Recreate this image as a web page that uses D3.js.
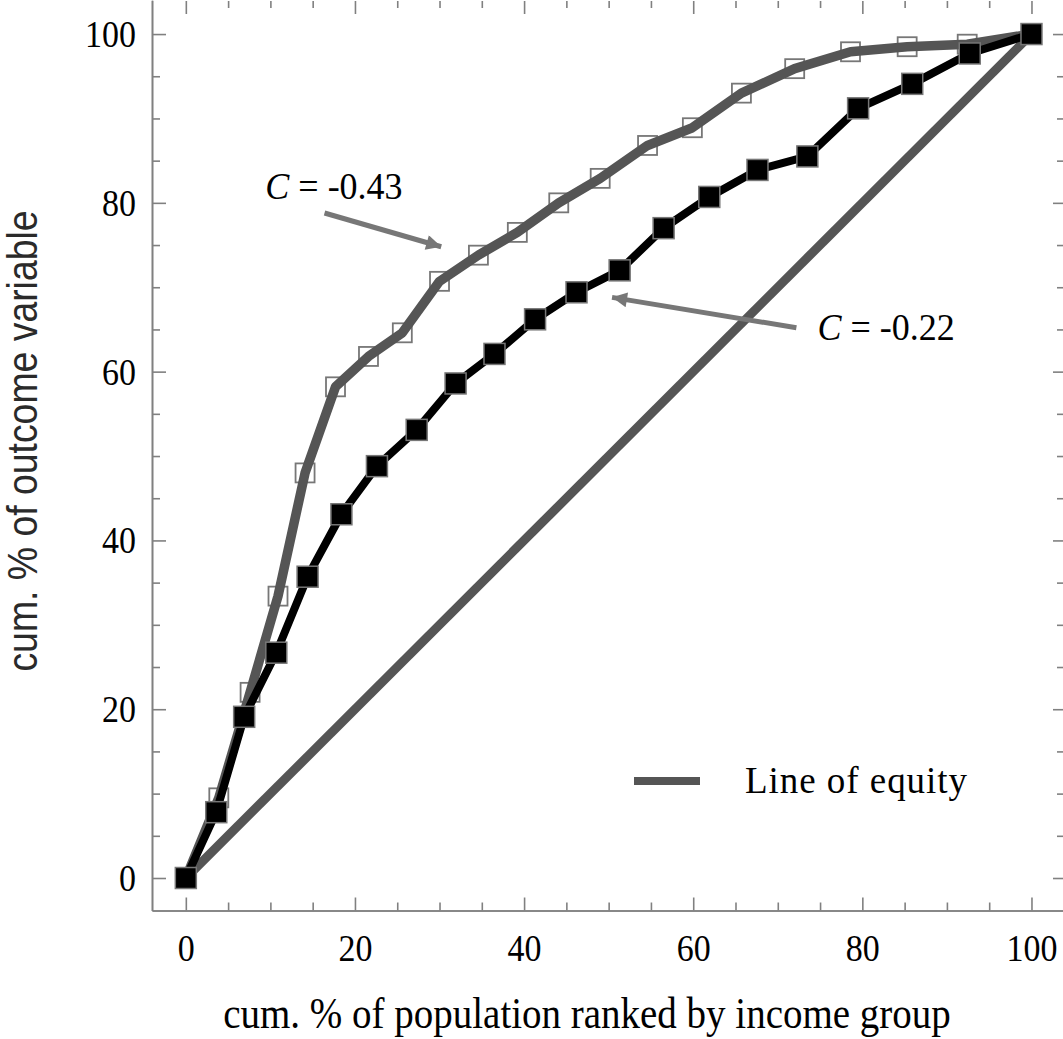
<!DOCTYPE html>
<html><head><meta charset="utf-8">
<script src="https://cdn.jsdelivr.net/npm/d3@7"></script>
<style>body{margin:0;background:#fff}svg{display:block}</style>
</head><body>
<script>
// ---- data ----
const blackX = [0, 3.6, 6.9, 10.7, 14.4, 18.4, 22.6, 27.3, 31.9, 36.5, 41.3, 46.2, 51.3, 56.5, 61.9, 67.6, 73.5, 79.5, 85.9, 92.7, 100];
const blackY = [0, 7.8, 19.1, 26.7, 35.7, 43.1, 48.8, 53.1, 58.6, 62.1, 66.2, 69.4, 72.0, 77.0, 80.7, 83.9, 85.5, 91.2, 94.1, 97.7, 100];
const grayX = [0, 3.9, 7.6, 10.9, 14.1, 17.7, 21.6, 25.6, 30.0, 34.6, 39.2, 44.1, 49.0, 54.6, 59.9, 65.7, 72.0, 78.6, 85.3, 92.4, 100];
const grayY = [0, 9.5, 22.0, 33.4, 48.0, 58.2, 61.8, 64.6, 70.7, 73.8, 76.5, 80.0, 82.9, 86.8, 88.9, 93.0, 95.9, 97.9, 98.5, 98.8, 100];
const equityX = [0, 100];
const equityY = [0, 100];
const majorTicks = [0, 20, 40, 60, 80, 100];
const minorTicks = [5,10,15,25,30,35,45,50,55,65,70,75,85,90,95];
const labelGray = "C = -0.43";
const labelBlack = "C = -0.22";
const legendLabel = "Line of equity";
const xTitle = "cum. % of population ranked by income group";
const yTitle = "cum. % of outcome variable";

const W = 1063, H = 1039;
const svg = d3.select("body").append("svg").attr("width", W).attr("height", H);
const x = d3.scaleLinear().domain([-4, 104]).range([152, 1065.3]);
const y = d3.scaleLinear().domain([-3.85, 104]).range([910.5, 0.3]);
const axisCol = "#808080";
const serif = "'Liberation Serif', 'Times New Roman', serif";
const VS = 1.12; // vertical stretch of the reference's text

function drawAxis(gen, tr, ticks, size, labels) {
  const g = svg.append("g").attr("transform", tr)
    .call(gen.tickValues(ticks).tickSize(size).tickSizeOuter(0).tickFormat(labels ? d3.format("d") : ""));
  g.select(".domain").attr("stroke", axisCol).attr("stroke-width", 1.6);
  g.selectAll(".tick line").attr("stroke", axisCol).attr("stroke-width", 1.6);
  g.selectAll("text").attr("font-family", serif).attr("font-size", 34).attr("fill", "#000");
  return g;
}
const gb = drawAxis(d3.axisBottom(x), "translate(0,910.5)", majorTicks, -13, true);
gb.selectAll("text").attr("y", 0).attr("dy", 0).attr("transform", `translate(0,50) scale(1,${VS})`);
drawAxis(d3.axisBottom(x), "translate(0,910.5)", minorTicks, -8, false);
const gl = drawAxis(d3.axisLeft(y), "translate(152,0)", majorTicks, -14, true);
gl.selectAll("text").attr("x", 0).attr("dy", 0).attr("transform", `translate(-16,12.5) scale(1,${VS})`);
drawAxis(d3.axisLeft(y), "translate(152,0)", minorTicks, -8, false);
// top and right ticks (frame lines are cropped off)
const gt = drawAxis(d3.axisTop(x), "translate(0,1)", majorTicks, -13, false);
gt.select(".domain").remove();
const gt2 = drawAxis(d3.axisTop(x), "translate(0,1)", minorTicks, -7, false);
gt2.select(".domain").remove();
const gr = drawAxis(d3.axisRight(y), "translate(1064,0)", majorTicks, -11, false);
gr.select(".domain").remove();
const gr2 = drawAxis(d3.axisRight(y), "translate(1064,0)", minorTicks, -7, false);
gr2.select(".domain").remove();

// titles
svg.append("text").attr("transform", `translate(587,1028) scale(1,${VS})`).attr("text-anchor", "middle")
  .attr("font-family", serif).attr("font-size", 39).attr("fill", "#000").text(xTitle);
svg.append("text").attr("transform", "translate(37,441) rotate(-90) scale(0.89,1)").attr("text-anchor", "middle")
  .attr("font-family", "'Liberation Sans', Arial, sans-serif").attr("font-size", 42).attr("fill", "#2a2a2a").text(yTitle);

const line = d3.line().x(d => x(d[0])).y(d => y(d[1]));
const zip = (a, b) => a.map((v, i) => [v, b[i]]);

// equity line
svg.append("path").attr("d", line(zip(equityX, equityY))).attr("fill", "none")
  .attr("stroke", "#555").attr("stroke-width", 9);

// gray series: open squares under the line
const gp = zip(grayX, grayY);
svg.append("g").selectAll("rect").data(gp).join("rect")
  .attr("x", d => x(d[0]) - 9.5).attr("y", d => y(d[1]) - 9.5).attr("width", 19).attr("height", 19)
  .attr("fill", "#fff").attr("stroke", "#777").attr("stroke-width", 1.8);
svg.append("path").attr("d", line(gp)).attr("fill", "none")
  .attr("stroke", "#555").attr("stroke-width", 9.5).attr("stroke-linejoin", "round");

// black series
const bp = zip(blackX, blackY);
svg.append("path").attr("d", line(bp)).attr("fill", "none")
  .attr("stroke", "#000").attr("stroke-width", 8).attr("stroke-linejoin", "round");
svg.append("g").selectAll("rect").data(bp).join("rect")
  .attr("x", d => x(d[0]) - 10.5).attr("y", d => y(d[1]) - 10.5).attr("width", 21).attr("height", 21)
  .attr("fill", "#000").attr("stroke", "#777").attr("stroke-width", 1.5);

// arrows
svg.append("defs").append("marker").attr("id", "ah").attr("viewBox", "0 0 10 10")
  .attr("refX", 10).attr("refY", 5).attr("markerWidth", 6).attr("markerHeight", 3)
  .attr("orient", "auto").attr("markerUnits", "strokeWidth")
  .append("path").attr("d", "M0,0 L10,5 L0,10 z").attr("fill", "#777");
function arrow(x1, y1, x2, y2) {
  svg.append("line").attr("x1", x(x1)).attr("y1", y(y1)).attr("x2", x(x2)).attr("y2", y(y2))
    .attr("stroke", "#777").attr("stroke-width", 5).attr("marker-end", "url(#ah)");
}
arrow(16.4, 78.8, 30.2, 74.8);
arrow(72.2, 65.2, 50.4, 68.8);

function clabel(px, py, txt) {
  const parts = txt.split(" = ");
  const t = svg.append("text").attr("transform", `translate(${x(px)},${y(py)}) scale(1,1.05)`)
    .attr("font-family", serif).attr("font-size", 36).attr("fill", "#000");
  t.append("tspan").attr("font-style", "italic").text(parts[0]);
  t.append("tspan").text(" = " + parts[1]);
}
clabel(9.4, 80.5, labelGray);
clabel(74.7, 63.7, labelBlack);

// legend
svg.append("line").attr("x1", 634).attr("x2", 700).attr("y1", 781).attr("y2", 781)
  .attr("stroke", "#555").attr("stroke-width", 8);
svg.append("text").attr("x", 745).attr("y", 793).attr("font-family", serif)
  .attr("font-size", 37).attr("textLength", 222).attr("lengthAdjust", "spacing")
  .attr("fill", "#000").text(legendLabel);
</script>
</body></html>
